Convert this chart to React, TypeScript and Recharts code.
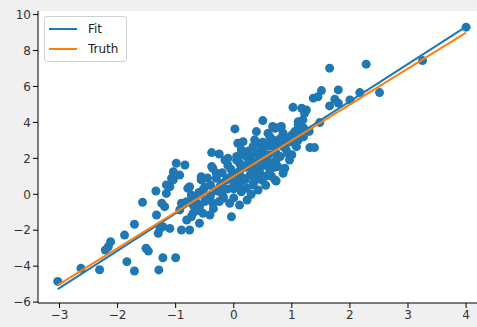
import { ComposedChart, Scatter, Line, XAxis, YAxis, CartesianGrid, Legend } from 'recharts';

// scatter samples
const pointX = [
  -3.03, -2.63, -2.31, -2.21, -2.16, -2.12, -1.88, -1.84, -1.71, -1.71,
  -1.57, -1.51, -1.47, -1.34, -1.29, -1.22, -1.0, -0.99, -0.84, -1.33,
  -1.3, -1.27, -1.22, -1.1, -0.9, -0.76, -1.24, -1.19, -1.16, -1.1,
  -1.04, -0.93, -0.9, -0.93, -0.79, -0.73, -0.7, -0.59, -0.56, -0.53,
  -0.47, -0.41, -0.38, -0.3, -0.24, -0.18, -0.07, -0.04, -0.13, -0.01,
  -0.64, -0.59, -0.53, -0.81, -0.36, -1.16, -1.07, -1.04, -0.73, -0.56,
  -0.36, -0.24, -0.18, -0.3, -0.67, -0.81, -0.38, -0.25, -0.15, 0.02,
  0.07, 0.39, 0.5, 0.67, 0.79, 1.02, 1.17, 1.22, 1.19, 1.11,
  1.37, 1.45, 1.51, 1.65, 1.65, 1.74, 1.8, 1.8, 2.0, 2.17,
  2.28, 2.51, 3.25, 4.0, 1.48, 1.11, 1.31, 1.39, 0.36, 0.48,
  0.62, 0.68, 0.85, 1.08, 0.73, 0.93, 1.05, 0.59, 0.85, 0.16,
  0.33, 0.45, 0.5, 0.22, 0.39, 0.1, 0.13, 0.88, 0.62, 0.73,
  0.96, 0.23, 0.73, 0.85, 0.76, 0.48, 0.42, 0.33, 0.22, 0.13,
  0.28, 0.36, 0.16, 0.39, 1.25, 0.0, 0.05, -0.05, 0.1, 0.2,
  0.05, 0.25, 0.3, -0.1, 0.55, 0.6, 0.45, 0.55, 0.3, 0.1,
  0.0, -0.2, 0.65, 0.9, 0.8, 1.0, 0.71, 0.82, 0.71, 1.11,
  -0.7, -0.7, -0.6, -0.6, -0.5, -0.5, -0.45, -0.4, -0.4, -0.35,
  -0.3, -0.25, -0.2, -0.2, -0.1, -0.1, -0.1, 0.0, 0.0, 0.05,
  0.1, 0.1, 0.15, 0.2, 0.2, 0.3, 0.3, 0.35, 0.4, 0.4,
  0.45, 0.5, 0.5, 0.55, 0.6, 0.6, 0.65, 0.7, 0.7, 0.8,
  0.8, 0.9, 0.9, 1.0, 1.0, 1.1, 1.2, 1.2, 1.3, -0.76,
];
const pointY = [
  -4.85, -4.12, -4.2, -3.1, -2.92, -2.64, -2.27, -3.75, -1.67, -4.27,
  -0.45, -3.0, -3.16, 0.18, -4.21, -3.53, -3.53, 1.73, 1.63, -1.15,
  -2.17, -1.9, -1.8, -1.9, -1.99, -1.99, -0.5, -0.69, 0.05, 0.42,
  0.8, 1.07, -0.5, -0.87, 0.33, -0.04, -1.06, -1.61, 0.8, 0.24,
  -0.32, -1.15, 1.54, 1.17, 0.42, -0.13, -0.5, -1.25, 0.8, 1.17,
  -0.5, -0.69, -1.06, -1.43, -0.5, 0.52, 0.89, 1.26, -1.25, 0.98,
  1.45, 0.14, -0.22, 0.89, -0.22, -0.41, 2.32, 2.24, 1.91, 3.64,
  2.84, 3.49, 4.1, 3.77, 3.73, 4.84, 4.79, 4.51, 4.14, 3.86,
  5.35, 5.43, 5.77, 7.02, 4.92, 5.29, 5.81, 5.07, 5.25, 5.66,
  7.24, 5.66, 7.44, 9.3, 3.99, 3.02, 2.6, 2.6, 3.02, 2.65,
  3.21, 3.02, 2.65, 2.65, 2.28, 2.28, 3.49, 3.4, 3.4, 2.93,
  2.65, 2.84, 2.37, 2.09, 1.73, 1.73, 2.47, 1.45, 1.35, 1.91,
  1.91, -0.32, 0.74, 1.17, 1.54, 0.8, 0.24, 0.52, 0.33, 0.14,
  1.07, 1.26, 0.89, 1.54, 4.69, 0.3, 0.7, 1.4, 1.1, 1.5,
  2.1, 2.4, 1.9, 2.0, 1.9, 2.7, 1.2, 0.5, 0.0, -0.6,
  -0.2, 0.6, 1.0, 2.9, 3.1, 2.2, 0.8, 3.77, 3.67, 4.04,
  -0.6, -0.2, 0.1, -0.9, 0.4, -0.4, 0.9, -0.1, 0.5, -0.8,
  0.2, -0.4, 1.2, 0.2, 0.9, 0.3, 1.6, 1.0, 0.6, 1.9,
  0.5, 1.3, 2.2, 0.8, 1.6, 2.1, 1.5, 0.7, 2.3, 1.1,
  2.0, 1.6, 2.9, 1.0, 2.2, 1.8, 3.0, 2.6, 1.5, 2.1,
  2.9, 3.1, 2.5, 3.3, 2.9, 3.4, 3.7, 3.2, 3.5, 0.42,
];

const fitX = [-3.03, 4.0];
const fitY = [-5.28, 9.33];
const truthX = [-3.03, 4.0];
const truthY = [-5.06, 9.0];

const xTicks = [-3, -2, -1, 0, 1, 2, 3, 4];
const yTicks = [-6, -4, -2, 0, 2, 4, 6, 8, 10];

const points = pointX.map((x, i) => ({ x, y: pointY[i] }));
const fitData = fitX.map((x, i) => ({ x, y: fitY[i] }));
const truthData = truthX.map((x, i) => ({ x, y: truthY[i] }));

const BLUE = '#1f77b4';
const ORANGE = '#ff7f0e';
const FONT = '"DejaVu Sans", sans-serif';

const minus = (v: number) => String(v).replace('-', '\u2212');

const Dot = (props: any) => <circle cx={props.cx} cy={props.cy} r={4.5} fill={BLUE} />;

function LegendBox() {
  const rows = [
    { name: 'Fit', color: BLUE },
    { name: 'Truth', color: ORANGE },
  ];
  return (
    <div style={{
      background: 'rgba(255,255,255,0.8)', border: '1px solid #d0d0d0', borderRadius: 3,
      padding: '2px 8px 2px 4px', fontFamily: FONT, fontSize: 12, color: '#222',
    }}>
      {rows.map((r) => (
        <div key={r.name} style={{ display: 'flex', alignItems: 'center', height: 20 }}>
          <span style={{ display: 'inline-block', width: 28, height: 2, background: r.color, marginRight: 11 }} />
          <span>{r.name}</span>
        </div>
      ))}
    </div>
  );
}

export default function App() {
  return (
    <div style={{ position: 'absolute', left: 0, top: 0, width: 477, height: 327, overflow: 'hidden', background: '#f0f0f0' }}>
      <ComposedChart width={490} height={327} margin={{ top: 11, right: 3, left: 0, bottom: 0 }}>
        <CartesianGrid fill="#fff" stroke="none" />
        <XAxis
          type="number" dataKey="x" domain={[-3.37, 4.36]} ticks={xTicks} allowDataOverflow
          height={24} tickSize={5} axisLine={{ stroke: '#000' }} tickLine={{ stroke: '#000' }}
          tick={{ fill: '#333', fontSize: 12, fontFamily: FONT }} tickFormatter={minus}
        />
        <XAxis
          xAxisId="top" orientation="top" type="number" domain={[-3.37, 4.36]} height={0}
          tick={false} tickLine={false} axisLine={{ stroke: '#000' }}
        />
        <YAxis
          type="number" dataKey="y" domain={[-6.05, 10.2]} ticks={yTicks} allowDataOverflow
          width={38} tickSize={5} axisLine={{ stroke: '#000' }} tickLine={{ stroke: '#000' }}
          tick={{ fill: '#333', fontSize: 12, fontFamily: FONT }} tickFormatter={minus}
        />
        <Scatter data={points} fill={BLUE} shape={Dot} zIndex={300} isAnimationActive={false} legendType="none" />
        <Line data={fitData} dataKey="y" stroke={BLUE} strokeWidth={2} dot={false} activeDot={false} zIndex={700} isAnimationActive={false} />
        <Line data={truthData} dataKey="y" stroke={ORANGE} strokeWidth={2} dot={false} activeDot={false} zIndex={710} isAnimationActive={false} />
        <Legend
          layout="horizontal" verticalAlign="middle" align="center"
          wrapperStyle={{ left: 44, top: 16, width: 'auto' }}
          content={() => <LegendBox />}
        />
      </ComposedChart>
    </div>
  );
}
